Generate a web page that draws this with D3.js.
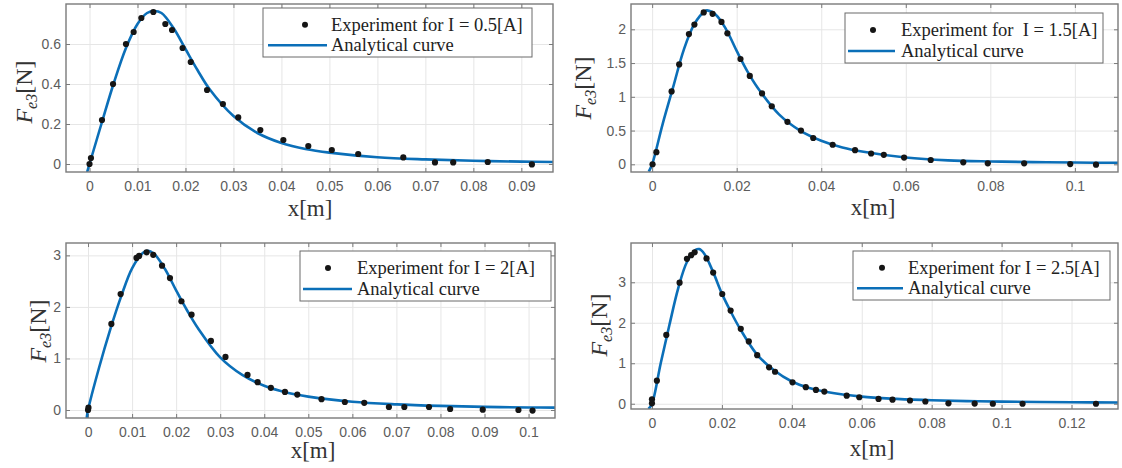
<!DOCTYPE html>
<html>
<head>
<meta charset="utf-8" />
<title>Fe3 - experiment vs analytical</title>
<style>
html, body {
    margin: 0px;
    padding: 0px;
    background: #fff;
}
svg { display: block; }
</style>
</head>
<body>
<svg id="chart" width="1122" height="468"></svg>

<script src="https://d3js.org/d3.v7.min.js"></script>
<script>
// measured points [x (m), F (N)]
var exp05 = [[0,0],[0.0003,0.03],[0.0026,0.22],[0.0049,0.40],[0.0076,0.60],[0.0092,0.66],[0.0108,0.73],
    [0.0133,0.76],[0.0158,0.70],[0.0172,0.67],[0.0194,0.58],[0.0211,0.51],[0.0245,0.37],[0.0278,0.30],
    [0.0310,0.233],[0.0356,0.17],[0.0404,0.12],[0.0456,0.09],[0.0505,0.07],[0.0560,0.05],[0.0654,0.033],
    [0.0720,0.008],[0.0758,0.008],[0.0830,0.01],[0.0922,-0.002]]
var exp15 = [[0.0001,0],[0.001,0.18],[0.0046,1.08],[0.0064,1.48],[0.0087,1.93],[0.0100,2.07],[0.0122,2.25],
    [0.0143,2.23],[0.0164,2.11],[0.0178,1.94],[0.0209,1.56],[0.0231,1.31],[0.0260,1.05],[0.0283,0.86],
    [0.0320,0.63],[0.0352,0.50],[0.0381,0.39],[0.0427,0.29],[0.0480,0.21],[0.0518,0.16],[0.0548,0.14],
    [0.0596,0.10],[0.0659,0.064],[0.0736,0.03],[0.0794,0.015],[0.0880,0.015],[0.0989,0.004],[0.1050,-0.006]]
var exp20 = [[0,0],[0.0001,0.045],[0.0053,1.67],[0.0074,2.25],[0.0110,2.95],[0.0116,2.99],[0.0133,3.06],
    [0.0148,3.01],[0.0168,2.80],[0.0186,2.56],[0.0212,2.11],[0.0235,1.85],[0.0279,1.34],[0.0312,1.03],
    [0.0362,0.68],[0.0385,0.54],[0.0415,0.43],[0.0447,0.35],[0.0475,0.30],[0.0530,0.21],[0.0583,0.155],
    [0.0627,0.14],[0.0683,0.058],[0.0718,0.058],[0.0774,0.058],[0.0822,0.02],[0.0896,0.006],[0.0977,0],[0.1009,-0.01]]
var exp25 = [[0,0.01],[0,0.11],[0.0014,0.57],[0.0041,1.70],[0.0079,2.99],[0.0100,3.58],[0.0112,3.67],
    [0.0122,3.74],[0.0156,3.59],[0.0175,3.24],[0.0201,2.71],[0.0225,2.30],[0.0254,1.85],[0.0277,1.54],
    [0.0301,1.20],[0.0335,0.90],[0.0352,0.79],[0.0402,0.53],[0.0440,0.41],[0.0469,0.34],[0.0493,0.30],
    [0.0557,0.20],[0.0593,0.16],[0.0648,0.12],[0.0688,0.10],[0.0738,0.08],[0.0782,0.055],[0.0848,0.01],
    [0.0923,0.005],[0.0975,0],[0.1060,0],[0.1270,0]]

// analytical curves
var curve05 = [[-0.0005,-0.04],[0,0],[0.0026,0.21],[0.005,0.40],[0.0076,0.58],[0.010,0.70],[0.012,0.755],
    [0.0135,0.765],[0.015,0.755],[0.0175,0.68],[0.020,0.575],[0.0225,0.47],[0.025,0.375],[0.030,0.24],
    [0.035,0.155],[0.040,0.105],[0.045,0.075],[0.050,0.057],[0.060,0.034],[0.070,0.023],[0.080,0.016],
    [0.090,0.012],[0.097,0.01]]
var curve15 = [[-0.0008,-0.11],[0,0],[0.0025,0.60],[0.005,1.15],[0.0075,1.70],[0.010,2.08],[0.0125,2.27],
    [0.013,2.28],[0.015,2.22],[0.0175,2.00],[0.020,1.68],[0.0225,1.38],[0.025,1.13],[0.030,0.74],
    [0.035,0.50],[0.040,0.35],[0.045,0.25],[0.050,0.185],[0.060,0.10],[0.070,0.058],[0.080,0.042],
    [0.090,0.033],[0.100,0.026],[0.111,0.022]]
var curve20 = [[-0.0003,-0.155],[0,0],[0.0025,0.82],[0.005,1.55],[0.0075,2.20],[0.010,2.75],[0.0125,3.05],
    [0.0135,3.09],[0.015,3.03],[0.0175,2.73],[0.020,2.32],[0.0225,1.93],[0.025,1.58],[0.030,1.02],
    [0.035,0.68],[0.040,0.47],[0.045,0.34],[0.050,0.26],[0.060,0.16],[0.070,0.11],[0.080,0.08],
    [0.090,0.06],[0.100,0.05],[0.107,0.045]]
var curve25 = [[-0.001,-0.13],[0,0],[0.0025,1.0],[0.005,1.95],[0.0075,2.85],[0.010,3.50],[0.0125,3.80],
    [0.0135,3.82],[0.015,3.70],[0.0175,3.25],[0.020,2.72],[0.0225,2.28],[0.025,1.88],[0.030,1.22],
    [0.035,0.82],[0.040,0.55],[0.045,0.39],[0.050,0.29],[0.060,0.175],[0.070,0.12],[0.080,0.085],
    [0.090,0.065],[0.100,0.052],[0.120,0.037],[0.134,0.032]]

// ticks
var xTicks05 = [0,0.01,0.02,0.03,0.04,0.05,0.06,0.07,0.08,0.09]
var xTicks15 = [0,0.02,0.04,0.06,0.08,0.1]
var xTicks20 = [0,0.01,0.02,0.03,0.04,0.05,0.06,0.07,0.08,0.09,0.1]
var xTicks25 = [0,0.02,0.04,0.06,0.08,0.1,0.12]
var yTicks05 = [0,0.2,0.4,0.6]
var yTicks15 = [0,0.5,1,1.5,2]
var yTicks20 = [0,1,2,3]
var yTicks25 = [0,1,2,3]

var legendLabels = ["Experiment for I = 0.5[A]", "Experiment for  I = 1.5[A]",
                    "Experiment for I = 2[A]", "Experiment for I = 2.5[A]"]

var panels = [
    {exp: exp05, curve: curve05, xt: xTicks05, yt: yTicks05, label: legendLabels[0],
     box: [66, 4, 553, 172], xd: [-0.0049, 0.0966], yd: [-0.04, 0.8],
     leg: {x0: 263, y0: 8, x1: 532, y1: 57, dot: 305, l0: 268, l1: 327, tx: 331},
     ylab: [25, 92], xlab: [310, 209]},
    {exp: exp15, curve: curve15, xt: xTicks15, yt: yTicks15, label: legendLabels[1],
     box: [631, 4, 1118, 172], xd: [-0.005, 0.1102], yd: [-0.114, 2.375],
     leg: {x0: 845, y0: 13, x1: 1103, y1: 63, dot: 873, l0: 848, l1: 895, tx: 901},
     ylab: [584, 88], xlab: [873, 208]},
    {exp: exp20, curve: curve20, xt: xTicks20, yt: yTicks20, label: legendLabels[2],
     box: [66, 243, 555, 418], xd: [-0.005, 0.106], yd: [-0.155, 3.24],
     leg: {x0: 300, y0: 251, x1: 551, y1: 301, dot: 328, l0: 303, l1: 352, tx: 357},
     ylab: [39, 331], xlab: [313, 451]},
    {exp: exp25, curve: curve25, xt: xTicks25, yt: yTicks25, label: legendLabels[3],
     box: [631, 243, 1118, 409], xd: [-0.006, 0.1333], yd: [-0.13, 3.97],
     leg: {x0: 853, y0: 251, x1: 1110, y1: 300, dot: 882, l0: 857, l1: 903, tx: 908},
     ylab: [600, 325], xlab: [872, 449]}
]

var svg = d3.select("#chart")
var blue = "#0b6fb8"
var frame = "#7a7a7a"
var serif = "'Liberation Serif', 'Times New Roman', serif"
var sans = "'Liberation Sans', Arial, sans-serif"
var fmt = d3.format("~g")

panels.forEach(function(p, i) {
    var x0 = p.box[0], y0 = p.box[1], x1 = p.box[2], y1 = p.box[3]
    var xScale = d3.scaleLinear().domain(p.xd).range([x0, x1])
    var yScale = d3.scaleLinear().domain(p.yd).range([y1, y0])

    var g = svg.append("g").attr("class", "panel")

    g.append("clipPath").attr("id", "clip" + i)
        .append("rect").attr("x", x0).attr("y", y0).attr("width", x1 - x0).attr("height", y1 - y0)

    // grid
    g.append("g")
        .attr("transform", "translate(0," + y1 + ")")
        .call(d3.axisBottom(xScale).tickValues(p.xt).tickSize(-(y1 - y0)).tickFormat(""))
        .call(function(s) { s.select(".domain").remove() })
        .selectAll("line").attr("stroke", "#e6e6e6")
    g.append("g")
        .attr("transform", "translate(" + x0 + ",0)")
        .call(d3.axisLeft(yScale).tickValues(p.yt).tickSize(-(x1 - x0)).tickFormat(""))
        .call(function(s) { s.select(".domain").remove() })
        .selectAll("line").attr("stroke", "#e6e6e6")

    // bottom axis with labels, ticks inside
    var bx = g.append("g")
        .attr("transform", "translate(0," + y1 + ")")
        .call(d3.axisBottom(xScale).tickValues(p.xt).tickSize(-4).tickPadding(9).tickFormat(fmt))
    bx.select(".domain").remove()
    bx.selectAll("line").attr("stroke", frame)
    bx.selectAll("text").attr("font-family", sans).attr("font-size", 14).attr("fill", "#5c5c5c")

    var lx = g.append("g")
        .attr("transform", "translate(" + x0 + ",0)")
        .call(d3.axisLeft(yScale).tickValues(p.yt).tickSize(-4).tickPadding(5).tickFormat(fmt))
    lx.select(".domain").remove()
    lx.selectAll("line").attr("stroke", frame)
    lx.selectAll("text").attr("font-family", sans).attr("font-size", 14).attr("fill", "#5c5c5c")

    // mirrored ticks on top and right
    var tx = g.append("g")
        .attr("transform", "translate(0," + y0 + ")")
        .call(d3.axisTop(xScale).tickValues(p.xt).tickSize(-4).tickFormat(""))
    tx.select(".domain").remove()
    tx.selectAll("line").attr("stroke", frame)
    var rx = g.append("g")
        .attr("transform", "translate(" + x1 + ",0)")
        .call(d3.axisRight(yScale).tickValues(p.yt).tickSize(-4).tickFormat(""))
    rx.select(".domain").remove()
    rx.selectAll("line").attr("stroke", frame)

    // data
    var plot = g.append("g").attr("clip-path", "url(#clip" + i + ")")
    var line = d3.line()
        .x(function(d) { return xScale(d[0]) })
        .y(function(d) { return yScale(d[1]) })
        .curve(d3.curveCatmullRom.alpha(0.5))
    plot.append("path")
        .datum(p.curve)
        .attr("d", line)
        .attr("fill", "none")
        .attr("stroke", blue)
        .attr("stroke-width", 2.6)
    plot.selectAll("circle")
        .data(p.exp)
        .enter().append("circle")
        .attr("cx", function(d) { return xScale(d[0]) })
        .attr("cy", function(d) { return yScale(d[1]) })
        .attr("r", 3.1)
        .attr("fill", "#151515")

    // box
    g.append("rect")
        .attr("x", x0).attr("y", y0)
        .attr("width", x1 - x0).attr("height", y1 - y0)
        .attr("fill", "none").attr("stroke", frame).attr("stroke-width", 1.4)

    // legend
    var L = p.leg
    var r1 = L.y0 + (L.y1 - L.y0) * 0.34, r2 = L.y0 + (L.y1 - L.y0) * 0.76
    var leg = g.append("g")
    leg.append("rect")
        .attr("x", L.x0).attr("y", L.y0)
        .attr("width", L.x1 - L.x0).attr("height", L.y1 - L.y0)
        .attr("fill", "#fff").attr("stroke", "#6a6a6a").attr("stroke-width", 1)
    leg.append("circle").attr("cx", L.dot).attr("cy", r1).attr("r", 3).attr("fill", "#151515")
    leg.append("line")
        .attr("x1", L.l0).attr("x2", L.l1).attr("y1", r2).attr("y2", r2)
        .attr("stroke", blue).attr("stroke-width", 2.4)
    leg.append("text")
        .attr("x", L.tx).attr("y", r1 + 6)
        .style("white-space", "pre")
        .attr("font-family", serif).attr("font-size", 18.5).attr("fill", "#222")
        .text(p.label)
    leg.append("text")
        .attr("x", L.tx).attr("y", r2 + 6)
        .attr("font-family", serif).attr("font-size", 18.5).attr("fill", "#222")
        .text("Analytical curve")

    // axis titles
    g.append("text")
        .attr("x", p.xlab[0]).attr("y", p.xlab[1] + 7)
        .attr("text-anchor", "middle")
        .attr("font-family", serif).attr("font-size", 23).attr("fill", "#333")
        .text("x[m]")

    var yl = g.append("text")
        .attr("transform", "translate(" + (p.ylab[0] + 7) + "," + p.ylab[1] + ") rotate(-90)")
        .attr("text-anchor", "middle")
        .attr("font-family", serif).attr("font-size", 24).attr("fill", "#333")
    yl.append("tspan").attr("font-style", "italic").text("F")
    yl.append("tspan").attr("font-style", "italic").attr("font-size", 16).attr("dy", 5).text("e3")
    yl.append("tspan").attr("dy", -5).text("[N]")
})
</script>
</body>
</html>
